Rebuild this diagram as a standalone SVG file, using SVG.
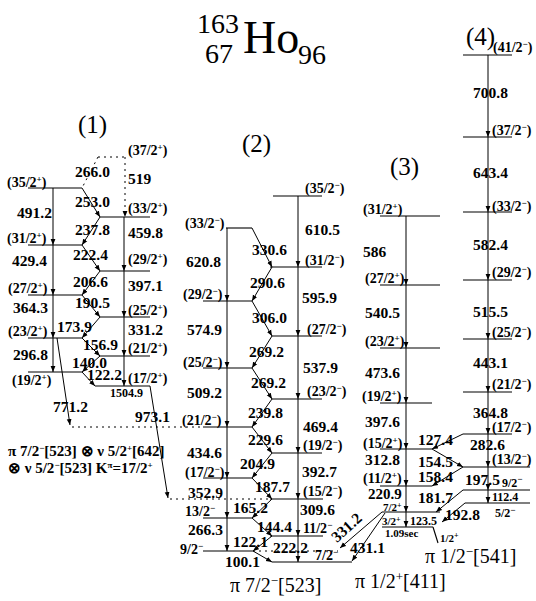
<svg xmlns="http://www.w3.org/2000/svg" width="536" height="601" viewBox="0 0 536 601">
<defs>
<marker id="ah" viewBox="0 0 10 10" refX="10" refY="5" markerWidth="6" markerHeight="6" orient="auto" markerUnits="userSpaceOnUse"><path d="M0,1 L10,5 L0,9 z" fill="#000"/></marker>
<style>
text{font-family:"Liberation Serif","Times New Roman",serif;fill:#000}
.e{font-size:15.5px;font-weight:bold}
.s{font-size:14px;font-weight:bold}
.sm{font-size:12px;font-weight:bold}
.xs{font-size:11px;font-weight:bold}
.t{font-size:20px}
.h{font-size:25px}
.lv{stroke:#000;stroke-width:1.1;fill:none}
.tr{stroke:#000;stroke-width:1;fill:none;marker-end:url(#ah)}
.dt{stroke:#000;stroke-width:1;fill:none;stroke-dasharray:2 4}
.dta{stroke:#000;stroke-width:1;fill:none;stroke-dasharray:2 4;marker-end:url(#ah)}
.sp{font-size:9px}
</style>
</defs>
<rect width="536" height="601" fill="#fff"/>
<g id="title">
<text x="197" y="33" style="font-size:28px">163</text>
<text x="205" y="63" style="font-size:28px">67</text>
<text x="243" y="53" style="font-size:46px">Ho</text>
<text x="298" y="64" style="font-size:28px">96</text>
</g>
<g id="band-labels">
<text class="h" x="78" y="133">(1)</text>
<text class="h" x="242" y="152">(2)</text>
<text class="h" x="390" y="175">(3)</text>
<text class="h" x="466" y="45">(4)</text>
</g>
<g id="b1-37"><line class="dt" x1="98" y1="157" x2="125" y2="157"/><text class="s" x="128" y="155">(37/2<tspan class="sp" dy="-5">+</tspan><tspan dy="5">)</tspan></text></g>
<g id="b1-35"><line class="lv" x1="28" y1="188" x2="82" y2="188"/><text class="s" x="7" y="187">(35/2<tspan class="sp" dy="-5">+</tspan><tspan dy="5">)</tspan></text></g>
<g id="b1-33"><line class="lv" x1="100" y1="217" x2="150" y2="217"/><text class="s" x="128" y="213">(33/2<tspan class="sp" dy="-5">+</tspan><tspan dy="5">)</tspan></text></g>
<g id="b1-31"><line class="lv" x1="28" y1="245" x2="82" y2="245"/><text class="s" x="7" y="243">(31/2<tspan class="sp" dy="-5">+</tspan><tspan dy="5">)</tspan></text></g>
<g id="b1-29"><line class="lv" x1="100" y1="271" x2="150" y2="271"/><text class="s" x="128" y="264">(29/2<tspan class="sp" dy="-5">+</tspan><tspan dy="5">)</tspan></text></g>
<g id="b1-27"><line class="lv" x1="28" y1="295" x2="82" y2="295"/><text class="s" x="8" y="293">(27/2<tspan class="sp" dy="-5">+</tspan><tspan dy="5">)</tspan></text></g>
<g id="b1-25"><line class="lv" x1="100" y1="317" x2="150" y2="317"/><text class="s" x="128" y="315">(25/2<tspan class="sp" dy="-5">+</tspan><tspan dy="5">)</tspan></text></g>
<g id="b1-23"><line class="lv" x1="28" y1="338" x2="82" y2="338"/><text class="s" x="8" y="336">(23/2<tspan class="sp" dy="-5">+</tspan><tspan dy="5">)</tspan></text></g>
<g id="b1-21"><line class="lv" x1="100" y1="356" x2="150" y2="356"/><text class="s" x="128" y="353">(21/2<tspan class="sp" dy="-5">+</tspan><tspan dy="5">)</tspan></text></g>
<g id="b1-19"><line class="lv" x1="28" y1="372" x2="82" y2="372"/><text class="s" x="12" y="385">(19/2<tspan class="sp" dy="-5">+</tspan><tspan dy="5">)</tspan></text></g>
<g id="b1-17"><line class="lv" x1="95" y1="386" x2="150" y2="386"/><text class="s" x="128" y="383">(17/2<tspan class="sp" dy="-5">+</tspan><tspan dy="5">)</tspan></text></g>
<g id="b2-35"><line class="lv" x1="273" y1="196" x2="322" y2="196"/><text class="s" x="305" y="193">(35/2<tspan class="sp" dy="-5">−</tspan><tspan dy="5">)</tspan></text></g>
<g id="b2-33"><line class="lv" x1="226" y1="228" x2="252" y2="228"/><text class="s" x="185" y="228">(33/2<tspan class="sp" dy="-5">−</tspan><tspan dy="5">)</tspan></text></g>
<g id="b2-31"><line class="lv" x1="270" y1="267" x2="322" y2="267"/><text class="s" x="305" y="265">(31/2<tspan class="sp" dy="-5">−</tspan><tspan dy="5">)</tspan></text></g>
<g id="b2-29"><line class="lv" x1="203" y1="301" x2="252" y2="301"/><text class="s" x="183" y="299">(29/2<tspan class="sp" dy="-5">−</tspan><tspan dy="5">)</tspan></text></g>
<g id="b2-27"><line class="lv" x1="272" y1="336" x2="322" y2="336"/><text class="s" x="307" y="334">(27/2<tspan class="sp" dy="-5">−</tspan><tspan dy="5">)</tspan></text></g>
<g id="b2-25"><line class="lv" x1="203" y1="368" x2="252" y2="368"/><text class="s" x="183" y="367">(25/2<tspan class="sp" dy="-5">−</tspan><tspan dy="5">)</tspan></text></g>
<g id="b2-23"><line class="lv" x1="272" y1="399" x2="322" y2="399"/><text class="s" x="307" y="396">(23/2<tspan class="sp" dy="-5">−</tspan><tspan dy="5">)</tspan></text></g>
<g id="b2-21"><line class="lv" x1="203" y1="427" x2="252" y2="427"/><text class="s" x="182" y="425">(21/2<tspan class="sp" dy="-5">−</tspan><tspan dy="5">)</tspan></text></g>
<g id="b2-19"><line class="lv" x1="272" y1="453" x2="322" y2="453"/><text class="s" x="303" y="450">(19/2<tspan class="sp" dy="-5">−</tspan><tspan dy="5">)</tspan></text></g>
<g id="b2-17"><line class="lv" x1="203" y1="478" x2="252" y2="478"/><text class="s" x="185" y="477">(17/2<tspan class="sp" dy="-5">−</tspan><tspan dy="5">)</tspan></text></g>
<g id="b2-15"><line class="lv" x1="270" y1="499" x2="323" y2="499"/><text class="s" x="303" y="496">(15/2<tspan class="sp" dy="-5">−</tspan><tspan dy="5">)</tspan></text></g>
<g id="b2-13"><line class="lv" x1="203" y1="518" x2="252" y2="518"/><text class="s" x="185" y="516">13/2<tspan class="sp" dy="-5">−</tspan></text></g>
<g id="b2-11"><line class="lv" x1="270" y1="536" x2="323" y2="536"/><text class="s" x="303" y="533">11/2<tspan class="sp" dy="-5">−</tspan></text></g>
<g id="b2-9"><line class="lv" x1="203" y1="551" x2="253" y2="551"/><line class="dt" x1="253" y1="551" x2="338" y2="551"/><text class="s" x="180" y="554">9/2<tspan class="sp" dy="-5">−</tspan></text></g>
<g id="b2-7"><line class="lv" x1="272" y1="562" x2="352" y2="562"/><text class="s" x="315" y="560">7/2<tspan class="sp" dy="-5">−</tspan></text></g>
<g id="b3-31"><line class="lv" x1="380" y1="216" x2="440" y2="216"/><text class="s" x="363" y="214">(31/2<tspan class="sp" dy="-5">+</tspan><tspan dy="5">)</tspan></text></g>
<g id="b3-27"><line class="lv" x1="380" y1="285" x2="440" y2="285"/><text class="s" x="365" y="283">(27/2<tspan class="sp" dy="-5">+</tspan><tspan dy="5">)</tspan></text></g>
<g id="b3-23"><line class="lv" x1="380" y1="348" x2="440" y2="348"/><text class="s" x="365" y="346">(23/2<tspan class="sp" dy="-5">+</tspan><tspan dy="5">)</tspan></text></g>
<g id="b3-19"><line class="lv" x1="380" y1="403" x2="432" y2="403"/><text class="s" x="362" y="401">(19/2<tspan class="sp" dy="-5">+</tspan><tspan dy="5">)</tspan></text></g>
<g id="b3-15"><line class="lv" x1="380" y1="449" x2="432" y2="449"/><text class="s" x="363" y="448">(15/2<tspan class="sp" dy="-5">+</tspan><tspan dy="5">)</tspan></text></g>
<g id="b3-11"><line class="lv" x1="380" y1="486" x2="432" y2="486"/><text class="s" x="363" y="483">(11/2<tspan class="sp" dy="-5">+</tspan><tspan dy="5">)</tspan></text></g>
<g id="b3-7"><line class="lv" x1="382" y1="512" x2="440" y2="512"/><text class="xs" x="383" y="511">7/2<tspan style="font-size:8px" dy="-3">+</tspan></text></g>
<g id="b3-3"><line class="lv" x1="382" y1="527" x2="433" y2="527"/><text class="xs" x="382" y="525">3/2<tspan style="font-size:8px" dy="-3">+</tspan></text><text class="xs" x="385" y="537">1.09sec</text></g>
<g id="b3-1"><polyline class="lv" points="433,527 438,543"/><text class="xs" x="440" y="542">1/2<tspan style="font-size:8px" dy="-4">+</tspan></text></g>
<g id="b4-41"><line class="lv" x1="463" y1="55" x2="512" y2="55"/><text class="s" x="493" y="52">(41/2<tspan class="sp" dy="-5">−</tspan><tspan dy="5">)</tspan></text></g>
<g id="b4-37"><line class="lv" x1="463" y1="137" x2="512" y2="137"/><text class="s" x="492" y="135">(37/2<tspan class="sp" dy="-5">−</tspan><tspan dy="5">)</tspan></text></g>
<g id="b4-33"><line class="lv" x1="463" y1="212" x2="512" y2="212"/><text class="s" x="492" y="211">(33/2<tspan class="sp" dy="-5">−</tspan><tspan dy="5">)</tspan></text></g>
<g id="b4-29"><line class="lv" x1="463" y1="280" x2="512" y2="280"/><text class="s" x="492" y="277">(29/2<tspan class="sp" dy="-5">−</tspan><tspan dy="5">)</tspan></text></g>
<g id="b4-25"><line class="lv" x1="463" y1="339" x2="512" y2="339"/><text class="s" x="492" y="337">(25/2<tspan class="sp" dy="-5">−</tspan><tspan dy="5">)</tspan></text></g>
<g id="b4-21"><line class="lv" x1="463" y1="392" x2="512" y2="392"/><text class="s" x="492" y="389">(21/2<tspan class="sp" dy="-5">−</tspan><tspan dy="5">)</tspan></text></g>
<g id="b4-17"><line class="lv" x1="463" y1="434" x2="512" y2="434"/><text class="s" x="492" y="432">(17/2<tspan class="sp" dy="-5">−</tspan><tspan dy="5">)</tspan></text></g>
<g id="b4-13"><line class="lv" x1="463" y1="467" x2="530" y2="467"/><text class="s" x="492" y="464">(13/2<tspan class="sp" dy="-5">−</tspan><tspan dy="5">)</tspan></text></g>
<g id="b4-9"><line class="lv" x1="463" y1="490" x2="530" y2="490"/><text class="sm" x="502" y="487">9/2<tspan class="sp" dy="-5">−</tspan></text></g>
<g id="b4-5"><line class="lv" x1="465" y1="503" x2="530" y2="503"/><text class="sm" x="495" y="517">5/2<tspan class="sp" dy="-4">−</tspan></text></g>
<g id="connectors">
<line class="dta" x1="125" y1="157" x2="125" y2="217"/>
<line class="dt" x1="98" y1="157" x2="82" y2="188"/>
<line class="tr" x1="53" y1="188" x2="53" y2="245"/>
<line class="tr" x1="53" y1="245" x2="53" y2="295"/>
<line class="tr" x1="53" y1="295" x2="53" y2="338"/>
<line class="tr" x1="53" y1="338" x2="53" y2="372"/>
<line class="tr" x1="124" y1="217" x2="124" y2="271"/>
<line class="tr" x1="124" y1="271" x2="124" y2="317"/>
<line class="tr" x1="124" y1="317" x2="124" y2="356"/>
<line class="tr" x1="124" y1="356" x2="124" y2="386"/>
<line class="tr" x1="82" y1="188" x2="100" y2="217"/>
<line class="tr" x1="100" y1="217" x2="82" y2="245"/>
<line class="tr" x1="82" y1="245" x2="100" y2="271"/>
<line class="tr" x1="100" y1="271" x2="82" y2="295"/>
<line class="tr" x1="82" y1="295" x2="100" y2="317"/>
<line class="tr" x1="100" y1="317" x2="82" y2="338"/>
<line class="tr" x1="82" y1="338" x2="100" y2="356"/>
<line class="tr" x1="100" y1="356" x2="82" y2="372"/>
<line class="tr" x1="82" y1="372" x2="95" y2="386"/>
<line class="tr" x1="57" y1="338" x2="70" y2="425"/>
<line class="dt" x1="72" y1="427" x2="203" y2="427"/>
<line class="tr" x1="150" y1="386" x2="168" y2="498"/>
<line class="dt" x1="170" y1="499" x2="270" y2="499"/>
<line class="tr" x1="227" y1="228" x2="227" y2="301"/>
<line class="tr" x1="227" y1="301" x2="227" y2="368"/>
<line class="tr" x1="227" y1="368" x2="227" y2="427"/>
<line class="tr" x1="227" y1="427" x2="227" y2="478"/>
<line class="tr" x1="227" y1="478" x2="227" y2="518"/>
<line class="tr" x1="227" y1="518" x2="227" y2="551"/>
<line class="tr" x1="298" y1="196" x2="298" y2="267"/>
<line class="tr" x1="298" y1="267" x2="298" y2="336"/>
<line class="tr" x1="298" y1="336" x2="298" y2="399"/>
<line class="tr" x1="298" y1="399" x2="298" y2="453"/>
<line class="tr" x1="298" y1="453" x2="298" y2="499"/>
<line class="tr" x1="298" y1="499" x2="298" y2="536"/>
<line class="tr" x1="298" y1="536" x2="298" y2="562"/>
<line class="tr" x1="252" y1="228" x2="272" y2="267"/>
<line class="tr" x1="272" y1="267" x2="252" y2="301"/>
<line class="tr" x1="252" y1="301" x2="272" y2="336"/>
<line class="tr" x1="272" y1="336" x2="252" y2="368"/>
<line class="tr" x1="252" y1="368" x2="272" y2="399"/>
<line class="tr" x1="272" y1="399" x2="252" y2="427"/>
<line class="tr" x1="252" y1="427" x2="272" y2="453"/>
<line class="tr" x1="272" y1="453" x2="252" y2="478"/>
<line class="tr" x1="252" y1="478" x2="272" y2="499"/>
<line class="tr" x1="272" y1="499" x2="252" y2="518"/>
<line class="tr" x1="252" y1="518" x2="272" y2="536"/>
<line class="tr" x1="272" y1="536" x2="253" y2="551"/>
<line class="tr" x1="253" y1="551" x2="272" y2="562"/>
<line class="tr" x1="406" y1="216" x2="406" y2="285"/>
<line class="tr" x1="406" y1="285" x2="406" y2="348"/>
<line class="tr" x1="406" y1="348" x2="406" y2="403"/>
<line class="tr" x1="406" y1="403" x2="406" y2="449"/>
<line class="tr" x1="406" y1="449" x2="406" y2="486"/>
<line class="tr" x1="406" y1="486" x2="406" y2="512"/>
<line class="tr" x1="406" y1="512" x2="406" y2="527"/>
<line class="tr" x1="382" y1="512" x2="340" y2="548"/>
<line class="tr" x1="385" y1="513" x2="352" y2="561"/>
<line class="tr" x1="488" y1="55" x2="488" y2="137"/>
<line class="tr" x1="488" y1="137" x2="488" y2="212"/>
<line class="tr" x1="488" y1="212" x2="488" y2="280"/>
<line class="tr" x1="488" y1="280" x2="488" y2="339"/>
<line class="tr" x1="488" y1="339" x2="488" y2="392"/>
<line class="tr" x1="488" y1="392" x2="488" y2="434"/>
<line class="tr" x1="488" y1="434" x2="488" y2="467"/>
<line class="tr" x1="488" y1="467" x2="488" y2="490"/>
<line class="tr" x1="488" y1="490" x2="488" y2="503"/>
<line class="tr" x1="463" y1="434" x2="432" y2="449"/>
<line class="tr" x1="432" y1="449" x2="463" y2="467"/>
<line class="tr" x1="463" y1="467" x2="432" y2="486"/>
<line class="tr" x1="463" y1="490" x2="436" y2="512"/>
<line class="tr" x1="465" y1="503" x2="442" y2="522"/>
</g>
<g id="energies">
<text class="e" x="75" y="177">266.0</text>
<text class="e" x="75" y="207">253.0</text>
<text class="e" x="75" y="235">237.8</text>
<text class="e" x="73" y="260">222.4</text>
<text class="e" x="73" y="287">206.6</text>
<text class="e" x="75" y="308">190.5</text>
<text class="e" x="57" y="332">173.9</text>
<text class="e" x="83" y="350">156.9</text>
<text class="e" x="72" y="368">140.0</text>
<text class="e" x="87" y="380">122.2</text>
<text class="e" x="17" y="218">491.2</text>
<text class="e" x="12" y="266">429.4</text>
<text class="e" x="13" y="313">364.3</text>
<text class="e" x="13" y="360">296.8</text>
<text class="e" x="128" y="184">519</text>
<text class="e" x="128" y="238">459.8</text>
<text class="e" x="128" y="291">397.1</text>
<text class="e" x="128" y="335">331.2</text>
<text class="e" x="53" y="412">771.2</text>
<text class="e" x="135" y="422">973.1</text>
<text class="sm" x="110" y="397">1504.9</text>
<text class="e" x="305" y="235">610.5</text>
<text class="e" x="186" y="267">620.8</text>
<text class="e" x="252" y="255">330.6</text>
<text class="e" x="250" y="288">290.6</text>
<text class="e" x="302" y="303">595.9</text>
<text class="e" x="252" y="323">306.0</text>
<text class="e" x="187" y="335">574.9</text>
<text class="e" x="249" y="357">269.2</text>
<text class="e" x="303" y="373">537.9</text>
<text class="e" x="251" y="388">269.2</text>
<text class="e" x="187" y="398">509.2</text>
<text class="e" x="248" y="418">239.8</text>
<text class="e" x="303" y="432">469.4</text>
<text class="e" x="248" y="445">229.6</text>
<text class="e" x="187" y="458">434.6</text>
<text class="e" x="240" y="469">204.9</text>
<text class="e" x="302" y="477">392.7</text>
<text class="e" x="255" y="492">187.7</text>
<text class="e" x="188" y="498">352.9</text>
<text class="e" x="233" y="513">165.2</text>
<text class="e" x="300" y="515">309.6</text>
<text class="e" x="188" y="535">266.3</text>
<text class="e" x="257" y="532">144.4</text>
<text class="e" x="233" y="547">122.1</text>
<text class="e" x="273" y="553">222.2</text>
<text class="e" x="225" y="567">100.1</text>
<text class="e" x="363" y="257">586</text>
<text class="e" x="365" y="318">540.5</text>
<text class="e" x="365" y="378">473.6</text>
<text class="e" x="365" y="427">397.6</text>
<text class="e" x="365" y="465">312.8</text>
<text class="e" style="font-size:15px" x="368" y="499">220.9</text>
<text class="e" x="418" y="445">127.4</text>
<text class="e" x="418" y="467">154.5</text>
<text class="e" x="418" y="482">158.4</text>
<text class="e" x="418" y="503">181.7</text>
<text class="e" x="445" y="520">192.8</text>
<text class="sm" x="410" y="525">123.5</text>
<text class="e" x="350" y="553">431.1</text>
<text class="e" transform="translate(337,543) rotate(-42)">331.2</text>
<text class="e" x="473" y="98">700.8</text>
<text class="e" x="473" y="178">643.4</text>
<text class="e" x="473" y="250">582.4</text>
<text class="e" x="473" y="317">515.5</text>
<text class="e" x="473" y="368">443.1</text>
<text class="e" x="473" y="418">364.8</text>
<text class="e" x="470" y="450">282.6</text>
<text class="e" x="465" y="485">197.5</text>
<text class="sm" x="492" y="501">112.4</text>
</g>
<g id="configs">
<text style="font-size:15px;font-weight:bold" x="8" y="456">π 7/2<tspan class="sp" dy="-5">−</tspan><tspan dy="5">[523] ⊗ ν 5/2</tspan><tspan class="sp" dy="-5">+</tspan><tspan dy="5">[642]</tspan></text>
<text style="font-size:15px;font-weight:bold" x="8" y="473">⊗ ν 5/2<tspan class="sp" dy="-5">−</tspan><tspan dy="5">[523]  K</tspan><tspan class="sp" dy="-5">π</tspan><tspan dy="5">=17/2</tspan><tspan class="sp" dy="-5">+</tspan></text>
<text class="t" x="230" y="592">π 7/2<tspan style="font-size:13px" dy="-7">−</tspan><tspan dy="7">[523]</tspan></text>
<text class="t" x="355" y="588">π 1/2<tspan style="font-size:13px" dy="-7">+</tspan><tspan dy="7">[411]</tspan></text>
<text class="t" x="425" y="563">π 1/2<tspan style="font-size:13px" dy="-7">−</tspan><tspan dy="7">[541]</tspan></text>
</g>
</svg>
